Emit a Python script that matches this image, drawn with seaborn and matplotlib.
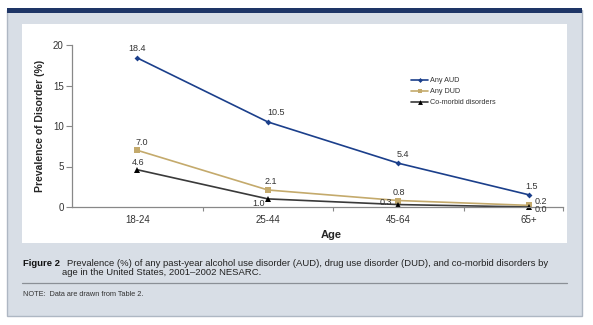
import matplotlib
matplotlib.use("Agg")
import matplotlib.pyplot as plt
import seaborn as sns
import pandas as pd
from matplotlib.patches import Rectangle
from matplotlib.lines import Line2D

# ---- data ----
ages = ["18-24", "25-44", "45-64", "65+"]
aud = [18.4, 10.5, 5.4, 1.5]
dud = [7.0, 2.1, 0.8, 0.2]
comorbid = [4.6, 1.0, 0.3, 0.0]
series_names = ["Any AUD", "Any DUD", "Co-morbid disorders"]
y_ticks = [0, 5, 10, 15, 20]

sns.set_theme(style="white")
plt.rcParams["font.family"] = ["Liberation Sans", "DejaVu Sans"]

W, H = 593, 325
fig = plt.figure(figsize=(W / 100, H / 100), dpi=100)
fig.patch.set_facecolor("white")

def fx(px):
    return px / W

def fy(py):
    return 1 - py / H

# panel background
panel = Rectangle((fx(7), fy(316)), fx(582) - fx(7), fy(10) - fy(316),
                  transform=fig.transFigure, facecolor="#D8DEE6",
                  edgecolor="#AEB7C3", linewidth=1.0, zorder=-3)
fig.patches.append(panel)
topbar = Rectangle((fx(7), fy(13)), fx(582) - fx(7), fy(8) - fy(13),
                   transform=fig.transFigure, facecolor="#1E3566",
                   edgecolor="none", zorder=-2)
fig.patches.append(topbar)
white = Rectangle((fx(22), fy(243)), fx(567) - fx(22), fy(24) - fy(243),
                  transform=fig.transFigure, facecolor="white",
                  edgecolor="none", zorder=-2)
fig.patches.append(white)

# axes
ax = fig.add_axes([fx(72), fy(207), fx(563) - fx(72), fy(45) - fy(207)])
ax.set_facecolor("none")
ax.set_zorder(5)

df = pd.DataFrame({
    "Age": ages * 3,
    "Prevalence": aud + dud + comorbid,
    "Series": [series_names[0]] * 4 + [series_names[1]] * 4 + [series_names[2]] * 4,
})
palette = {series_names[0]: "#1B3F8B", series_names[1]: "#C4AA6C",
           series_names[2]: "#3A3A3A"}
markers = {series_names[0]: "D", series_names[1]: "s", series_names[2]: "^"}
sns.lineplot(data=df, x="Age", y="Prevalence", hue="Series", style="Series",
             palette=palette, markers=markers, dashes=False, ax=ax,
             linewidth=1.2, markersize=4, markeredgewidth=0, legend=False,
             sort=False)
for ln in ax.lines:
    if ln.get_marker() == "^":
        ln.set_markerfacecolor("black")
        ln.set_markersize(5)
    if ln.get_marker() == "D":
        ln.set_markersize(3)
    ln.set_clip_on(False)

ax.set_xlim(-0.5, 3.26)
ax.set_ylim(0, 20)
ax.set_yticks(y_ticks)
ax.set_yticklabels([str(t) for t in y_ticks])
ax.set_xticks([0, 1, 2, 3])
ax.set_xticklabels(ages)
ax.tick_params(axis="x", length=0, pad=6, labelsize=7, labelcolor="#333333")
ax.tick_params(axis="y", length=4, width=0.8, color="#888888", pad=2,
               labelsize=7, labelcolor="#333333", left=True)
ax.set_xticks([0.5, 1.5, 2.5, 3.26], minor=True)
ax.tick_params(axis="x", which="minor", length=3, width=0.8, color="#888888",
               bottom=True, direction="out")
for s in ["top", "right"]:
    ax.spines[s].set_visible(False)
for s in ["left", "bottom"]:
    ax.spines[s].set_color("#888888")
    ax.spines[s].set_linewidth(0.9)
ax.set_xlabel("Age", fontsize=8, fontweight="bold")
ax.xaxis.set_label_coords((331 - 72) / (563 - 72), -(230 - 207) / (207 - 45))
ax.set_ylabel("Prevalence of Disorder (%)", fontsize=7.5, fontweight="bold")
ax.yaxis.set_label_coords(-(72 - 45) / (563 - 72), 0.5)

# value labels
offsets = {
    "aud": [(0, 9), (8, 9), (4, 9), (3, 8)],
    "dud": [(4, 8), (3, 8), (0, 8), (12, 4)],
    "co": [(1, 7), (-9, -5), (-13, 2), (12, -3)],
}
for vals, key in [(aud, "aud"), (dud, "dud"), (comorbid, "co")]:
    for i, v in enumerate(vals):
        dx, dy = offsets[key][i]
        ax.annotate(f"{v:.1f}", (i, v), xytext=(dx, dy),
                    textcoords="offset pixels", ha="center", va="center",
                    fontsize=6.5, color="#333333", annotation_clip=False)

# legend
handles = []
for name in series_names:
    mk = markers[name]
    handles.append(Line2D([0], [0], color=palette[name], marker=mk,
                          markersize=3.5 if mk != "D" else 2.5,
                          markerfacecolor="black" if mk == "^" else palette[name],
                          markeredgewidth=0, linewidth=1.2))
leg = ax.legend(handles, series_names, loc="upper left",
                bbox_to_anchor=((411 - 72) / (563 - 72), (207 - 77) / (207 - 45)),
                frameon=False, fontsize=5.2, handlelength=2.4, handletextpad=0.2,
                labelspacing=0.55, borderaxespad=0, borderpad=0)
for t in leg.get_texts():
    t.set_color("#333333")

# caption
fig.text(fx(23), fy(263), "Figure 2", fontsize=6.8, fontweight="bold",
         va="center", ha="left", color="#111111")
fig.text(fx(67), fy(263),
         "Prevalence (%) of any past-year alcohol use disorder (AUD), drug use disorder (DUD), and co-morbid disorders by",
         fontsize=6.8, va="center", ha="left", color="#222222")
fig.text(fx(62), fy(272.5), "age in the United States, 2001\u20132002 NESARC.",
         fontsize=6.8, va="center", ha="left", color="#222222")
fig.add_artist(Line2D([fx(22), fx(567)], [fy(283), fy(283)],
                      transform=fig.transFigure, color="#8A8F96", linewidth=0.9))
fig.text(fx(23), fy(295), "NOTE:  Data are drawn from Table 2.", fontsize=5.3,
         va="center", ha="left", color="#333333")

fig.savefig("out.png", dpi=100, facecolor="white")
